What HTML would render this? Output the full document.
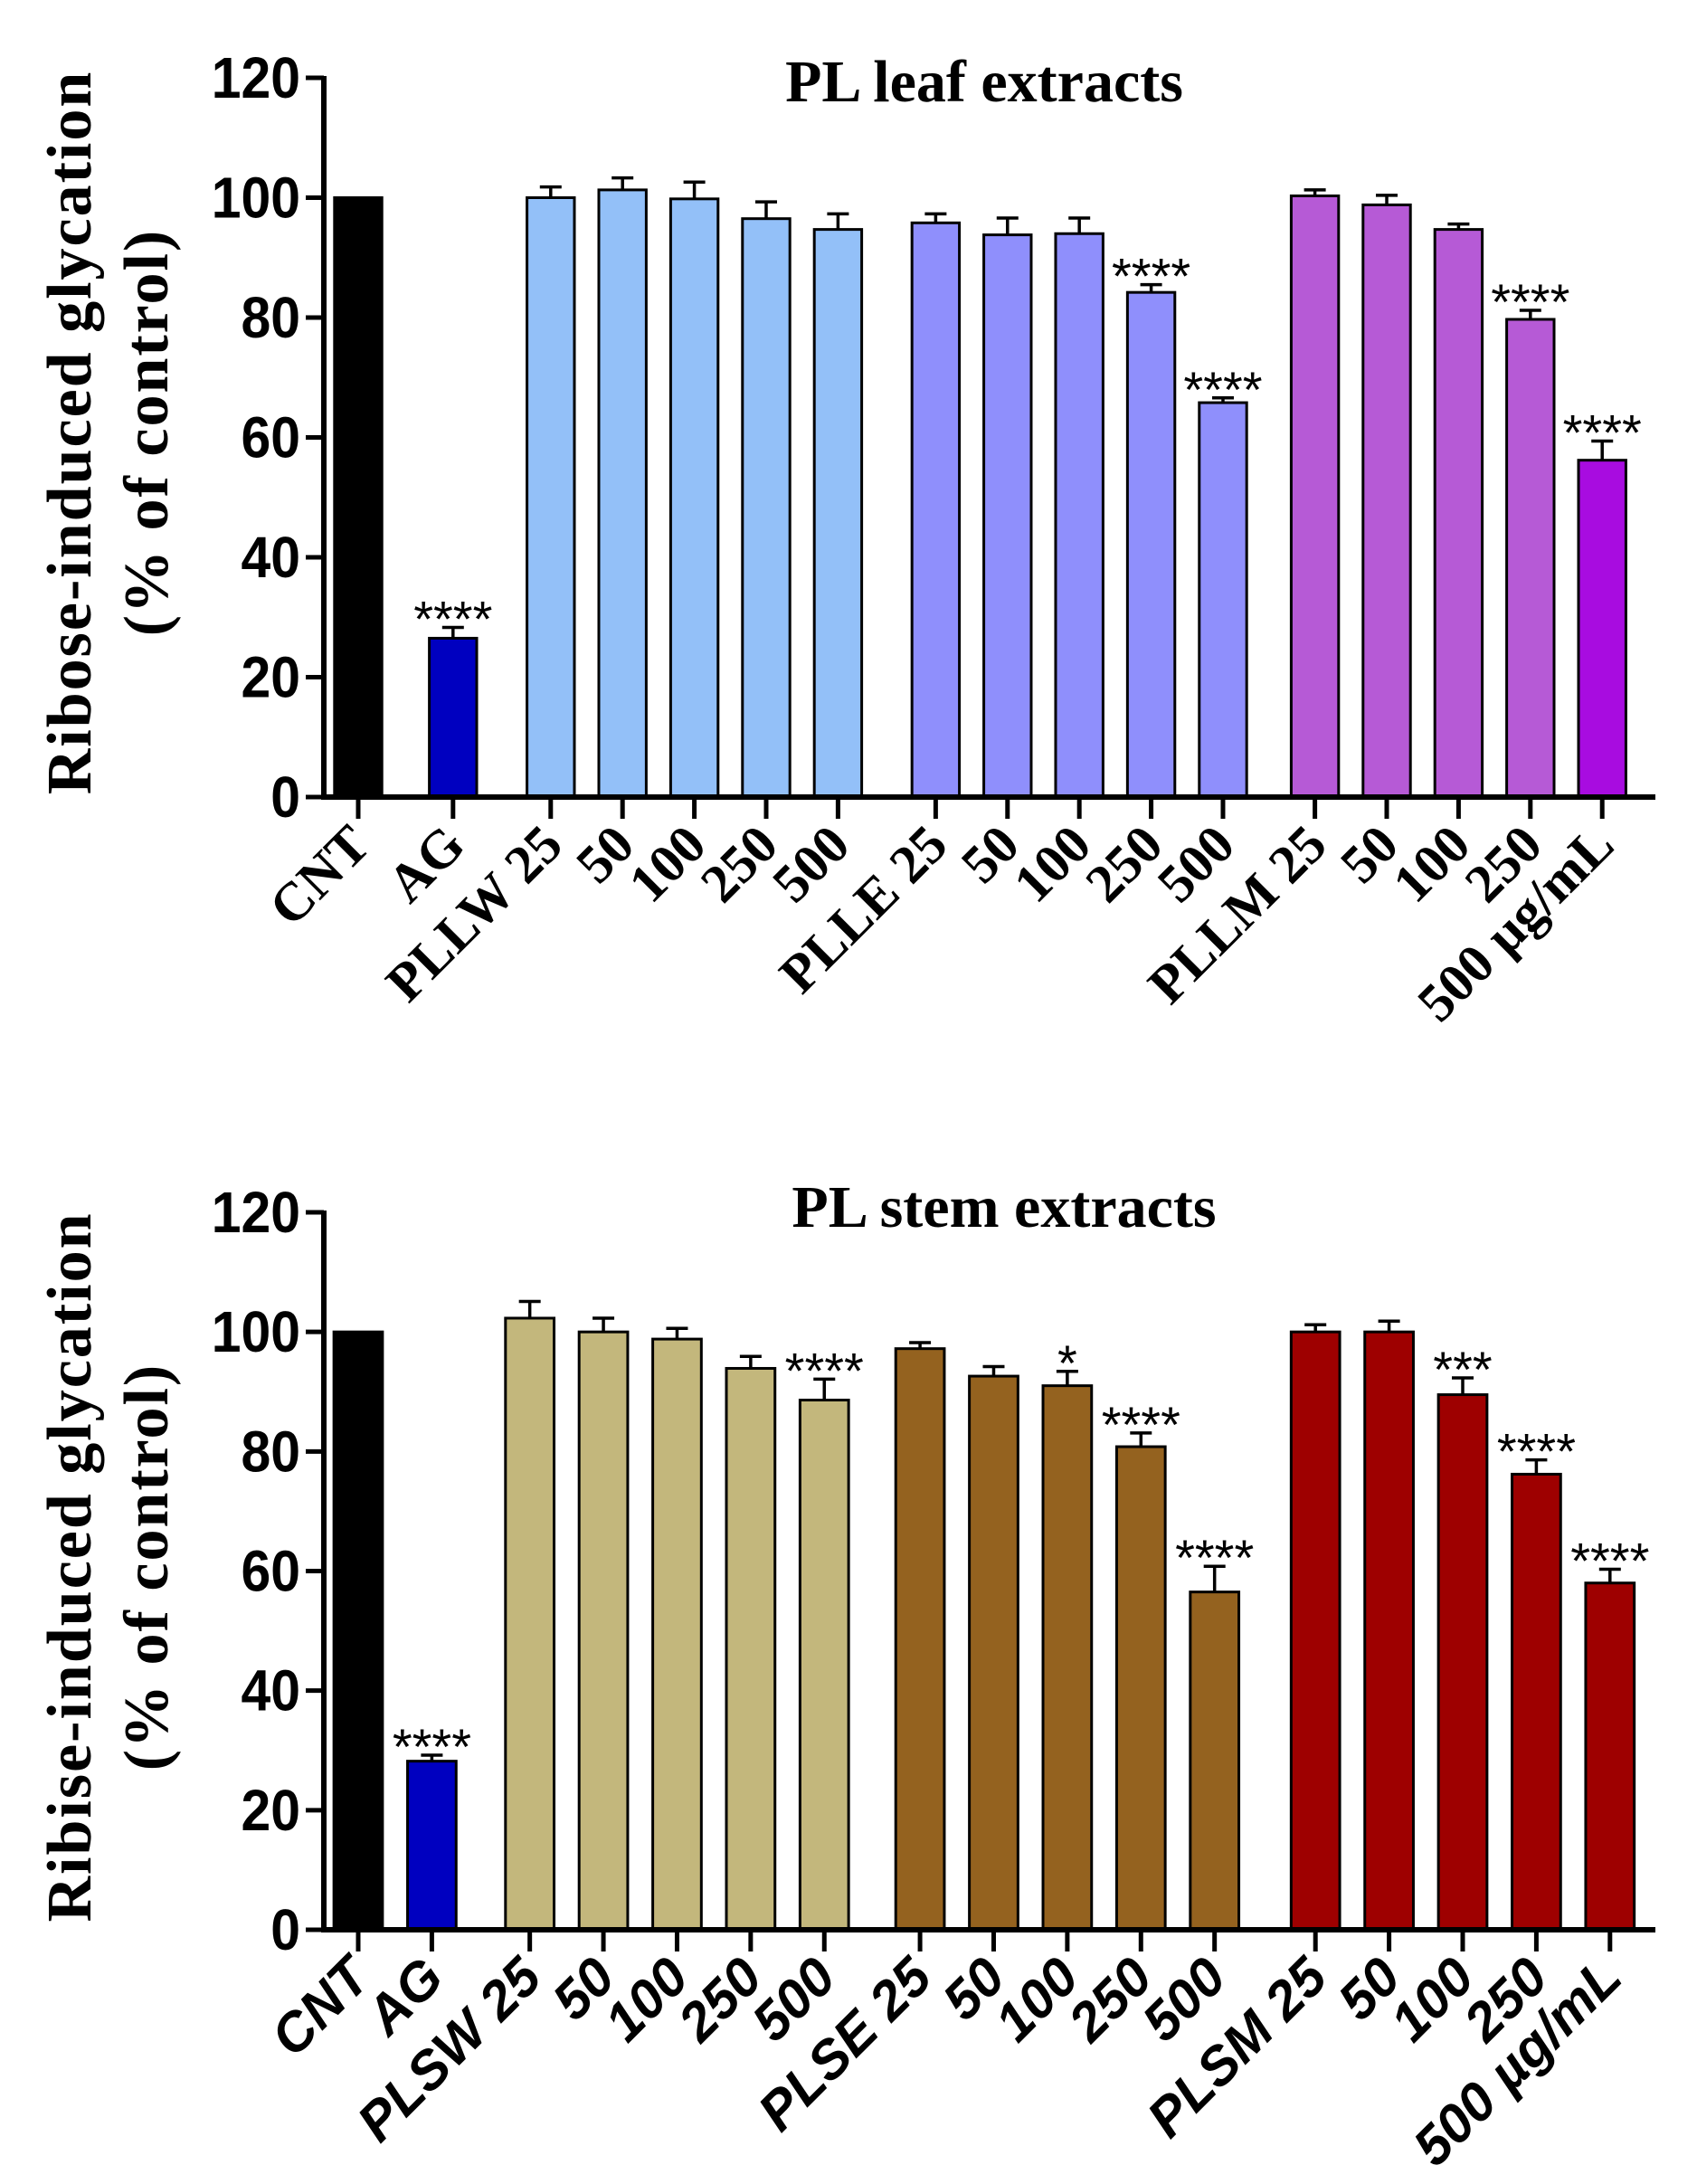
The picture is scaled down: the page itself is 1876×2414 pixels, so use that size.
<!DOCTYPE html>
<html><head><meta charset="utf-8"><style>
html,body{margin:0;padding:0;background:#fff;width:1876px;height:2414px;overflow:hidden}
svg{display:block}
</style></head><body>
<svg id="fig" width="1876" height="2414" viewBox="0 0 1876 2414" xmlns="http://www.w3.org/2000/svg"></svg>
<script>
// ---- Chart 1 data (leaf) ----
const leafCategories = ["CNT","AG","PLLW 25","50","100","250","500","PLLE 25","50","100","250","500","PLLM 25","50","100","250","500 µg/mL"];
const leafValues = [100,26.5,100,101.3,99.8,96.5,94.7,95.8,93.8,94,84.2,65.8,100.3,98.8,94.7,79.7,56.2];
const leafErrors = [0,1.8,1.8,2,2.8,2.8,2.6,1.5,2.8,2.6,1.3,0.8,1,1.6,0.9,1.5,3.2];
const leafStars = ["","****","","","","","","","","","****","****","","","","****","****"];
// ---- Chart 2 data (stem) ----
const stemCategories = ["CNT","AG","PLSW 25","50","100","250","500","PLSE 25","50","100","250","500","PLSM 25","50","100","250","500 µg/mL"];
const stemValues = [100,28.2,102.3,100,98.8,93.9,88.6,97.2,92.6,91,80.8,56.5,100,100,89.5,76.2,58];
const stemErrors = [0,1,2.8,2.3,1.8,2,3.5,1,1.6,2.4,2.3,4.3,1.2,1.8,2.8,2.4,2.3];
const stemStars = ["","****","","","","","****","","","*","****","****","","","***","****","****"];
const yTicks = [0,20,40,60,80,100,120];

const NS="http://www.w3.org/2000/svg";
const svg=document.getElementById('fig');
function mk(tag,attrs,parent){const e=document.createElementNS(NS,tag);for(const k in attrs)e.setAttribute(k,attrs[k]);(parent||svg).appendChild(e);return e;}

function drawChart(o){
  const g=mk('g',{});
  
  
  const y=v=>o.y0-(o.y0-o.y120)*v/120;
  const x=i=>o.cx0+o.slot*o.pos[i];
  const t=mk('text',{x:o.titleX,y:o.titleY,'text-anchor':'middle','font-family':'"Liberation Serif",serif','font-weight':'bold','font-size':66},g);
  t.textContent=o.title;
  
  
  const yt=mk('text',{transform:`translate(0,${o.ytY}) rotate(-90)`,'text-anchor':'middle','font-family':'"Liberation Serif",serif','font-weight':'bold','font-size':70,'letter-spacing':2},g);
  
  
  const l1=mk('tspan',{x:0,y:100},yt);l1.textContent=o.yTitle;
  const l2=mk('tspan',{x:0,y:185},yt);l2.textContent='(% of control)';
  o.values.forEach((v,i)=>{
    const cx=x(i),w=o.slot*0.66;
    const r=mk('rect',{x:cx-w/2,y:y(v),width:w,height:o.y0-y(v),fill:o.colors[i],stroke:'#000','stroke-width':3},g);
    
    
    if(o.errors[i]>0){
      const ye=y(v+o.errors[i]);
      mk('line',{x1:cx,x2:cx,y1:y(v),y2:ye,stroke:'#000','stroke-width':3.5},g);
      mk('line',{x1:cx-12,x2:cx+12,y1:ye,y2:ye,stroke:'#000','stroke-width':3.5},g);
    }
    if(o.stars[i]){
      const s=mk('text',{x:cx,y:y(v+o.errors[i])+10,'text-anchor':'middle','font-family':'"Liberation Sans",sans-serif','font-size':56},g);
      s.textContent=o.stars[i];
      
      
    }
    mk('line',{x1:cx,x2:cx,y1:o.y0,y2:o.y0+24,stroke:'#000','stroke-width':5},g);
    const lb=mk('text',{transform:`translate(${cx+16},${o.y0+56}) rotate(-45)`,'text-anchor':'end','font-family':o.labelFont,'font-weight':'bold','font-style':o.labelStyle,'font-size':60},g);
    lb.textContent=o.cats[i];
    
    
  });
  mk('line',{x1:o.ax,x2:o.ax,y1:o.y120-2,y2:o.y0+3,stroke:'#000','stroke-width':6},g);
  mk('line',{x1:o.ax-3,x2:o.xEnd,y1:o.y0,y2:o.y0,stroke:'#000','stroke-width':6},g);
  yTicks.forEach(v=>{
    mk('line',{x1:o.ax-20,x2:o.ax,y1:y(v),y2:y(v),stroke:'#000','stroke-width':5},g);
    const tl=mk('text',{x:o.ax-26,y:y(v)+22,'text-anchor':'end','font-family':'"Liberation Sans",sans-serif','font-weight':'bold','font-size':64,transform:`translate(${(o.ax-26)*0.08},0) scale(0.92,1)`},g);
    tl.textContent=v;
    
    
  });
}
const leafColors=['#000','#0000c0','#93c0f8','#93c0f8','#93c0f8','#93c0f8','#93c0f8','#8f8ffc','#8f8ffc','#8f8ffc','#8f8ffc','#8f8ffc','#b65ad6','#b65ad6','#b65ad6','#b65ad6','#a80ce0'];
const stemColors=['#000','#0000c0','#c3b77c','#c3b77c','#c3b77c','#c3b77c','#c3b77c','#94621f','#94621f','#94621f','#94621f','#94621f','#9e0000','#9e0000','#9e0000','#9e0000','#9e0000'];
const posTop=[0,1.32,2.68,3.68,4.68,5.68,6.68,8.04,9.04,10.04,11.04,12.04,13.32,14.32,15.32,16.32,17.32];
const posBot=[0,1.0,2.33,3.33,4.33,5.33,6.33,7.63,8.63,9.63,10.63,11.63,13.0,14.0,15.0,16.0,17.0];
drawChart({name:'leaf-chart',title:'PL leaf extracts',titleX:1088,titleY:112,yTitle:'Ribose-induced glycation',ytY:478,
  y0:881,y120:86,ax:358,xEnd:1830,cx0:396,slot:79.4,pos:posTop,values:leafValues,errors:leafErrors,stars:leafStars,cats:leafCategories,colors:leafColors,
  labelFont:'"Liberation Serif",serif',labelStyle:'normal'});
drawChart({name:'stem-chart',title:'PL stem extracts',titleX:1110,titleY:1356,yTitle:'Ribise-induced glycation',ytY:1732,
  y0:2133,y120:1340,ax:358,xEnd:1830,cx0:396,slot:81.4,pos:posBot,values:stemValues,errors:stemErrors,stars:stemStars,cats:stemCategories,colors:stemColors,
  labelFont:'"Liberation Sans",sans-serif',labelStyle:'italic'});
</script>
</body></html>
